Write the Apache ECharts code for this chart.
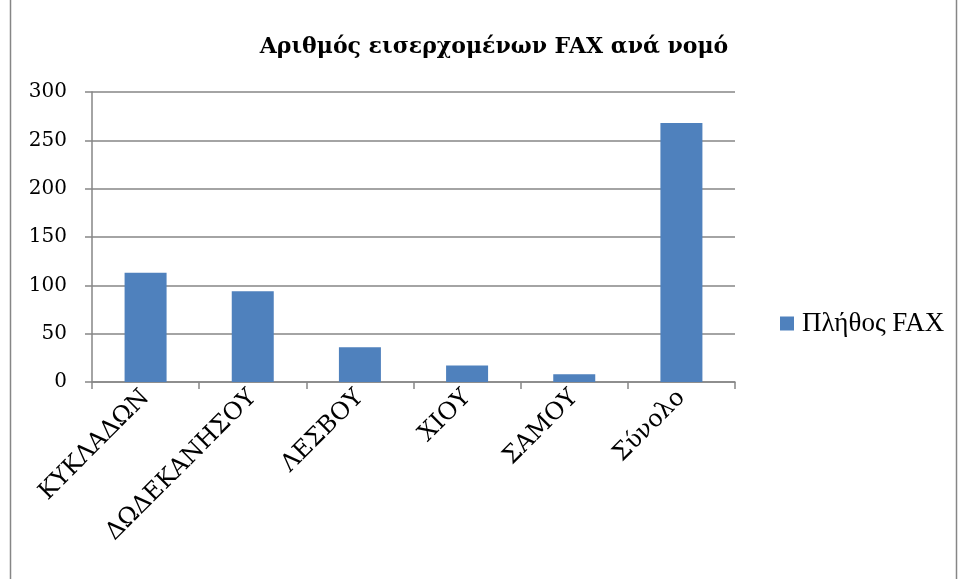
<!DOCTYPE html>
<html>
<head>
<meta charset="utf-8">
<script src="https://cdn.jsdelivr.net/npm/echarts@6/dist/echarts.min.js"></script>
<style>
  html, body { margin: 0; padding: 0; background: #fff; }
  #chart { width: 959px; height: 579px; }
</style>
</head>
<body>
<div id="chart"></div>
<script>
var categories = ['ΚΥΚΛΑΔΩΝ', 'ΔΩΔΕΚΑΝΗΣΟΥ', 'ΛΕΣΒΟΥ', 'ΧΙΟΥ', 'ΣΑΜΟΥ', 'Σύνολο'];
var faxCounts = [113, 94, 36, 17, 8, 268];
var seriesName = 'Πλήθος FAX';
var chartTitle = 'Αριθμός εισερχομένων FAX ανά νομό';

var serif = '"DejaVu Serif", "Liberation Serif", serif';

var myChart = echarts.init(document.getElementById('chart'));

var option = {
    backgroundColor: '#fff',
    animation: false,
    title: {
        text: chartTitle,
        left: 489,
        textAlign: 'center',
        top: 31,
        textStyle: {
            fontFamily: serif,
            fontSize: 22,
            fontWeight: 'bold',
            color: '#000'
        }
    },
    legend: {
        data: [seriesName],
        orient: 'vertical',
        left: 775,
        top: 305,
        icon: 'rect',
        itemWidth: 14,
        itemHeight: 14,
        itemGap: 8,
        textStyle: {
            fontFamily: '"Liberation Serif", serif',
            fontSize: 27,
            color: '#000',
            padding: [0, 0, 0, 3]
        }
    },
    grid: {
        left: 92,
        right: 224,
        top: 92,
        bottom: 197,
        containLabel: false
    },
    xAxis: {
        type: 'category',
        data: categories,
        axisLine: { lineStyle: { color: '#868686', width: 1.5 } },
        axisTick: { show: true, length: 7, lineStyle: { color: '#868686', width: 1.5 } },
        axisLabel: {
            rotate: 45,
            interval: 0,
            margin: 12,
            fontFamily: serif,
            fontSize: 24,
            color: '#000'
        }
    },
    yAxis: {
        type: 'value',
        min: 0,
        max: 300,
        interval: 50,
        axisLine: { show: true, lineStyle: { color: '#868686', width: 1.5 } },
        axisTick: { show: true, length: 7, lineStyle: { color: '#868686', width: 1.5 } },
        axisLabel: {
            margin: 25,
            fontFamily: serif,
            fontSize: 20,
            color: '#000',
            padding: [6, 0, 0, 0]
        },
        splitLine: { lineStyle: { color: '#868686', width: 1.5 } }
    },
    series: [{
        name: seriesName,
        type: 'bar',
        data: faxCounts,
        barWidth: 42,
        itemStyle: {
            color: '#4f81bd'
        }
    }],
    graphic: [{
        type: 'rect',
        shape: { x: 10.5, y: -5, width: 946, height: 600 },
        style: { fill: 'none', stroke: '#868686', lineWidth: 1.5 },
        silent: true
    }]
};

myChart.setOption(option);

window.addEventListener('resize', function () {
    myChart.resize();
});
</script>
</body>
</html>
